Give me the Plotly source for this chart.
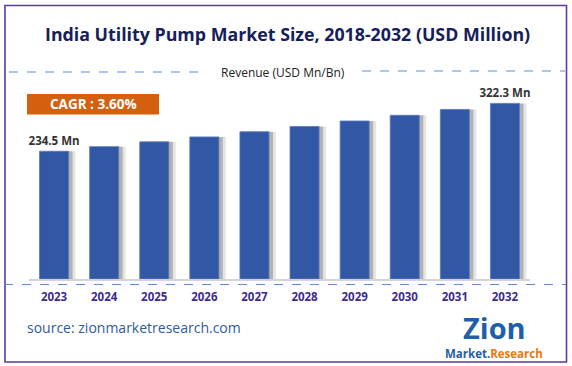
import plotly.graph_objects as go

years = ["2023", "2024", "2025", "2026", "2027", "2028", "2029", "2030", "2031", "2032"]
revenue = [234.5, 242.9, 251.7, 260.8, 270.2, 279.9, 290.0, 300.4, 311.2, 322.3]
label_text = ["234.5 Mn", "", "", "", "", "", "", "", "", "322.3 Mn"]
title_text = "India Utility Pump Market Size, 2018-2032 (USD Million)"
legend_text = "Revenue (USD Mn/Bn)"
cagr_text = "CAGR : 3.60%"
source_text = "source: zionmarketresearch.com"

W, H = 572, 366
def px(x):
    return x / W
def py(y):
    return 1 - y / H

BAR_W = 0.58
n = len(years)
fig = go.Figure()
# soft shadows
fig.add_trace(go.Bar(x=years, y=revenue, width=[BAR_W] * n, offset=[-BAR_W / 2 + 0.14] * n,
                     marker=dict(color="rgba(0,0,0,0.10)", line=dict(width=0)), hoverinfo="skip", showlegend=False))
fig.add_trace(go.Bar(x=years, y=revenue, width=[BAR_W] * n, offset=[-BAR_W / 2 + 0.08] * n,
                     marker=dict(color="rgba(0,0,0,0.22)", line=dict(width=0)), hoverinfo="skip", showlegend=False))
fig.add_trace(go.Bar(x=years, y=revenue, width=[BAR_W] * n, offset=[-BAR_W / 2] * n,
                     marker=dict(color="#3257a5", line=dict(color="#5b7cc0", width=0.8)),
                     text=label_text, textposition="outside", cliponaxis=False, constraintext="none",
                     textfont=dict(family="Open Sans", size=11.5, color="#333333", weight="bold"),
                     showlegend=False))

fig.update_layout(
    width=W, height=H, margin=dict(l=0, r=0, t=0, b=0),
    paper_bgcolor="white", plot_bgcolor="white", barmode="overlay",
    xaxis=dict(domain=[px(29), px(530)], showgrid=False, zeroline=False, showline=True,
               linecolor="#d4d4d4", linewidth=1.5, ticks="", ticklabelstandoff=6,
               tickfont=dict(family="Open Sans", size=11.5, color="#3d2c8d", weight="bold")),
    yaxis=dict(domain=[py(279), py(83)], range=[0, 359.7], showgrid=False, zeroline=False,
               showticklabels=False, showline=False),
    font=dict(family="Open Sans"),
)

shapes = []
# outer border
shapes.append(dict(type="rect", xref="paper", yref="paper", x0=px(5), x1=px(566.5), y0=py(362), y1=py(5.5),
                   line=dict(color="#5c3a9e", width=1.6), fillcolor="rgba(0,0,0,0)"))
# dashed lines around legend text
shapes.append(dict(type="line", xref="paper", yref="paper", x0=px(9), x1=px(203), y0=py(72), y1=py(72),
                   line=dict(color="#5b8fd9", width=1, dash="dash")))
shapes.append(dict(type="line", xref="paper", yref="paper", x0=px(362), x1=px(565), y0=py(71), y1=py(71),
                   line=dict(color="#5b8fd9", width=1, dash="dash")))
# bottom dashed line
shapes.append(dict(type="line", xref="paper", yref="paper", x0=px(4), x1=px(566), y0=py(284.5), y1=py(284.5),
                   line=dict(color="#5b8fd9", width=1, dash="dash")))
# CAGR box
shapes.append(dict(type="rect", xref="paper", yref="paper", x0=px(27), x1=px(159), y0=py(114.5), y1=py(94),
                   line=dict(width=0), fillcolor="#d4600f"))
fig.update_layout(shapes=shapes)

ann = []
ann.append(dict(text=title_text, x=px(287), y=py(34), xref="paper", yref="paper", showarrow=False,
                xanchor="center", yanchor="middle",
                font=dict(family="Open Sans", size=17.8, color="#15205a", weight="bold")))
ann.append(dict(text=legend_text, x=px(283), y=py(72), xref="paper", yref="paper", showarrow=False,
                xanchor="center", yanchor="middle", font=dict(family="Open Sans", size=12, color="#222222")))
ann.append(dict(text=cagr_text, x=px(93), y=py(104), xref="paper", yref="paper", showarrow=False,
                xanchor="center", yanchor="middle",
                font=dict(family="Open Sans", size=13.5, color="white", weight="bold")))
ann.append(dict(text=source_text, x=px(25), y=py(327), xref="paper", yref="paper", showarrow=False,
                xanchor="left", yanchor="middle", font=dict(family="Open Sans", size=14, color="#2f5b9c")))
ann.append(dict(text="Zion", x=px(494), y=py(327), xref="paper", yref="paper", showarrow=False,
                xanchor="center", yanchor="middle",
                font=dict(family="Open Sans", size=29, color="#1f5fa8", weight="bold")))
ann.append(dict(text="<span style='color:#1f5fa8'>Market.</span><span style='color:#e8790f'>Research</span>",
                x=px(494), y=py(353.5), xref="paper", yref="paper", showarrow=False,
                xanchor="center", yanchor="middle",
                font=dict(family="Open Sans", size=11.5, weight="bold")))
fig.update_layout(annotations=ann)

fig.write_html("out.html", config={"displayModeBar": False},
               post_script="document.body.style.margin='0';")
